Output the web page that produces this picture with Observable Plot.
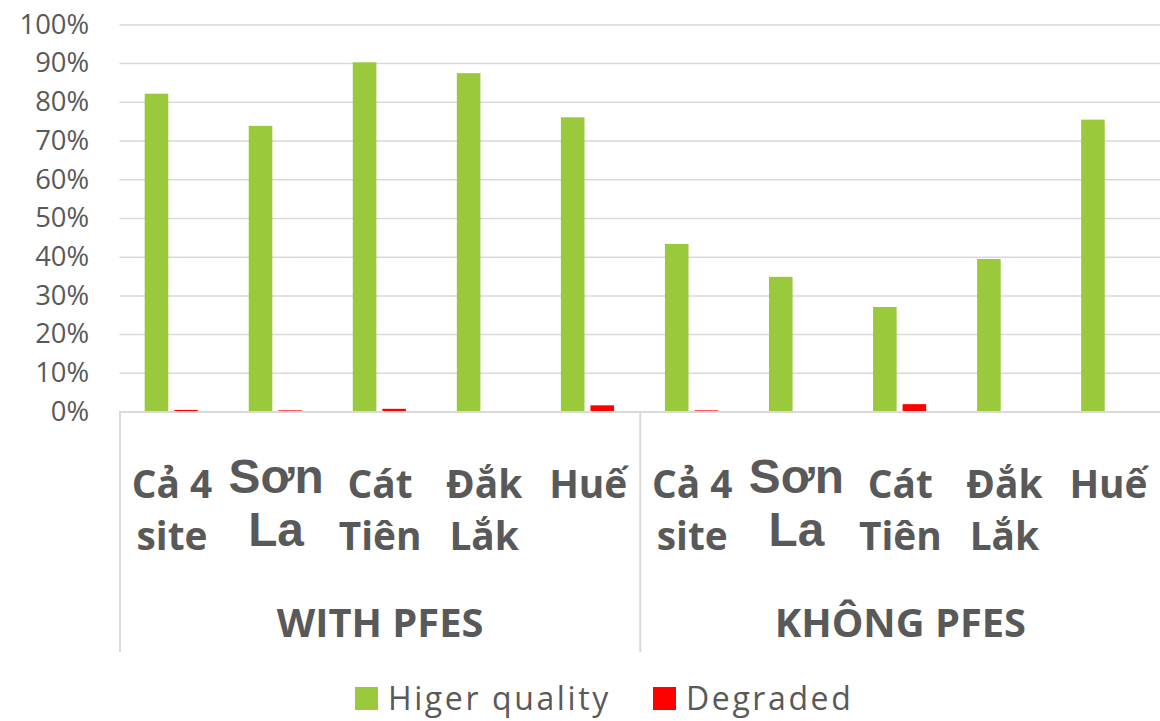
<!DOCTYPE html>
<html>
<head>
<meta charset="utf-8">
<script src="https://cdn.jsdelivr.net/npm/d3@7"></script>
<script src="https://cdn.jsdelivr.net/npm/@observablehq/plot@0.6"></script>
<style>
html, body { margin: 0; padding: 0; background: #fff; overflow: hidden; }
#wrap { position: relative; width: 1160px; height: 721px; overflow: hidden; }
#wrap svg { display: block; }
</style>
</head>
<body>
<div id="wrap"></div>
<script>
// ---- data ----
const groups = ["WITH PFES", "KHÔNG PFES"];
const sites = ["Cả 4\nsite", "Sơn\nLa", "Cát\nTiên", "Đắk\nLắk", "Huế"];
const series = ["Higer quality", "Degraded"];
const seriesColors = ["#9aca3c", "#ff0000"];
const higherWith = [0.821, 0.738, 0.902, 0.874, 0.760];
const degradedWith = [0.004, 0.003, 0.007, 0, 0.016];
const higherWithout = [0.433, 0.348, 0.270, 0.394, 0.754];
const degradedWithout = [0.003, 0, 0.019, 0, 0];
const yTicks = [0, 0.1, 0.2, 0.3, 0.4, 0.5, 0.6, 0.7, 0.8, 0.9, 1];

const higherBy = [higherWith, higherWithout];
const degradedBy = [degradedWith, degradedWithout];
const rows = [];
groups.forEach((g, gi) => sites.forEach((s, si) => rows.push({
  key: gi * sites.length + si, group: g, site: s, siteIndex: si,
  higher: higherBy[gi][si], degraded: degradedBy[gi][si]
})));

const gray = "#595959";
const W = 1165, H = 665;
const plot = Plot.plot({
  width: W, height: H,
  marginLeft: 120, marginRight: 0, marginTop: 24.5, marginBottom: H - 413.3,
  style: { fontFamily: "Open Sans", color: gray, background: "transparent" },
  x: { type: "band", domain: rows.map(d => d.key), padding: 0, round: false, axis: null },
  y: { domain: [0, 1], axis: null },
  marks: [
    Plot.gridY(yTicks, { stroke: "#d9d9d9", strokeOpacity: 1, strokeWidth: 1.5 }),
    Plot.axisY(yTicks, { tickFormat: d3.format(".0%"), tickSize: 0, tickPadding: 31, fontSize: 27.5, fill: gray, label: null }),
    Plot.barY(rows, { x: "key", y: "higher", fill: seriesColors[0], insetLeft: 25.3, insetRight: 55.5 }),
    Plot.barY(rows, { x: "key", y: "degraded", fill: seriesColors[1], insetLeft: 55, insetRight: 25.8 }),
    Plot.ruleY([0], { stroke: "#d9d9d9", strokeWidth: 2 }),
    Plot.ruleX(rows.filter(d => d.siteIndex === 0), { x: "key", dx: -52.25, stroke: "#d9d9d9", strokeWidth: 2, insetTop: 388.8, insetBottom: -241.7 }),
    Plot.text(rows.filter(d => d.siteIndex !== 1), {
      x: "key", text: "site", frameAnchor: "bottom", lineAnchor: "top", dy: 49,
      fontSize: 39, fontWeight: "bold", fontFamily: "Open Sans", fill: gray, lineHeight: 1.35
    }),
    Plot.text(rows.filter(d => d.siteIndex === 1), {
      x: "key", text: "site", frameAnchor: "bottom", lineAnchor: "top", dy: 42.6,
      fontSize: 48, fontWeight: "bold", fontFamily: "Liberation Sans", fill: gray, lineHeight: 1.125
    }),
    Plot.text(rows.filter(d => d.siteIndex === 2), {
      x: "key", text: "group", frameAnchor: "bottom", lineAnchor: "top", dy: 197.5,
      fontSize: 40, fontWeight: "bold", fontFamily: "Open Sans", fill: gray
    })
  ]
});
document.getElementById("wrap").appendChild(plot);

// ---- legend (below the chart) ----
const legendX = [355, 653];
const leg = d3.select("#wrap").append("svg").attr("width", 1160).attr("height", 56);
series.forEach((s, i) => {
  leg.append("rect").attr("x", legendX[i]).attr("y", 25).attr("width", 23).attr("height", 23).attr("fill", seriesColors[i]);
  leg.append("text").attr("x", legendX[i] + 33).attr("y", 47.7)
    .attr("font-family", "Open Sans").attr("font-size", 32).attr("letter-spacing", 2.6)
    .attr("fill", gray).text(s);
});
</script>
</body>
</html>
